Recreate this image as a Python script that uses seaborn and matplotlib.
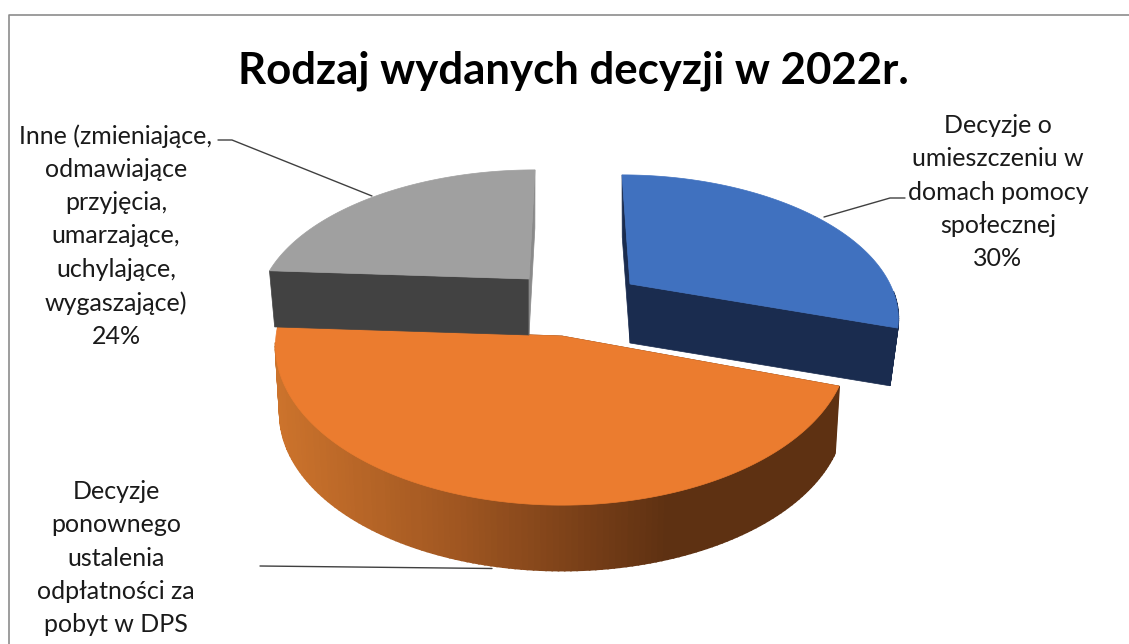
import numpy as np
import matplotlib
matplotlib.use('Agg')
import matplotlib.pyplot as plt
import seaborn as sns

# dane
etykiety = [
    'Decyzje o\numieszczeniu w\ndomach pomocy\nspołecznej\n30%',
    'Decyzje\nponownego\nustalenia\nodpłatności za\npobyt w DPS',
    'Inne (zmieniające,\nodmawiające\nprzyjęcia,\numarzające,\nuchylające,\nwygaszające)\n24%',
]
wartosci = [30, 46, 24]
tytul = 'Rodzaj wydanych decyzji w 2022r.'

kolor_gora = ['#4071bf', '#eb7c2f', '#a0a0a0']
kolor_bok = ['#1a2c4f', None, '#424242']
kolor_sciana = ['#1a2c4f', '#5e3112', '#8a8a8a']
gradient = sns.blend_palette(['#cc732c', '#9f5621', '#7a4018', '#5e3112'], 200)

# rzut perspektywiczny: cx, cy, R, A, B, pochylenie, glebokosc, skala dolu
rzut = [
    dict(cx=630, cy=284, R=260, A=133, B=0.219, L=-8, d=59, s=0.97),
    dict(cx=562, cy=336, R=286, A=159, B=0.06, L=0, d=68, s=0.985),
    dict(cx=529, cy=279, R=264, A=133, B=0.219, L=6, d=56, s=0.98),
]

sns.set_theme(style='white')
plt.rcParams['font.family'] = ['Lato', 'Open Sans', 'DejaVu Sans']

fig, ax = plt.subplots(figsize=(11.29, 6.44), dpi=100)
fig.subplots_adjust(0, 0, 1, 1)
ax.set_xlim(0, 1129)
ax.set_ylim(644, 0)
ax.axis('off')


def punkt(p, kat, dol=False):
    u, v = np.cos(kat), np.sin(kat)
    s = p['s'] if dol else 1
    m = 1 + p['B'] * v
    x = p['cx'] + s * (p['R'] * u / m + p['L'] * v)
    y = p['cy'] - s * p['A'] * v / m + (p['d'] if dol else 0)
    return x, y


# katy wycinkow, zgodnie z ruchem wskazowek od godziny 12
granice = np.radians(90 - 3.6 * np.cumsum([0] + wartosci))

for i in [2, 0, 1]:
    p = rzut[i]
    kat = np.linspace(granice[i], granice[i + 1], 140)
    tx, ty = punkt(p, kat)
    bx, by = punkt(p, kat, True)
    srodek_g = (p['cx'], p['cy'])
    srodek_d = (p['cx'], p['cy'] + p['d'])

    # sciany radialne
    for k, kol in ((kat[0], kolor_bok[i] or kolor_sciana[i]), (kat[-1], kolor_sciana[i])):
        a, b = punkt(p, k), punkt(p, k, True)
        ax.fill([a[0], b[0], srodek_d[0], srodek_g[0]], [a[1], b[1], srodek_d[1], srodek_g[1]],
                color=kol, lw=0.5, zorder=i + 1)

    # bok zewnetrzny, tylko przednia czesc luku
    for j in range(len(kat) - 1):
        if np.sin(kat[j]) > -0.05:
            continue
        if kolor_bok[i] is None:
            t = np.interp(tx[j], [275, 460, 580, 670], [0, 1 / 3, 2 / 3, 1])
            kol = gradient[int(t * 199)]
        else:
            kol = kolor_bok[i]
        ax.fill([tx[j], tx[j + 1], bx[j + 1], bx[j]], [ty[j], ty[j + 1], by[j + 1], by[j]],
                color=kol, lw=1.2, zorder=i + 1)

    # gorna powierzchnia
    ax.fill(np.r_[srodek_g[0], tx], np.r_[srodek_g[1], ty], color=kolor_gora[i], lw=0.5, zorder=i + 1.5)

# linie odniesienia
kol_linii = '#404040'
ax.plot([218, 232, 372], [140, 140, 196], color=kol_linii, lw=1, zorder=1)
ax.plot([905, 890, 824], [198, 198, 217], color=kol_linii, lw=1, zorder=1)
ax.plot([260, 492], [566, 568.5], color=kol_linii, lw=1, zorder=1)

# ramka
ax.plot([8.5, 8.5, 1129], [644, 14.5, 14.5], color='#8c8c8c', lw=1.2, zorder=0)

# teksty
ax.text(573, 71, tytul, ha='center', va='center', fontsize=31.5, fontweight='bold', color='black')
opis = [(998, 192), (116, 558), (116, 236)]
for tekst, (x, y) in zip(etykiety, opis):
    ax.text(x, y, tekst, ha='center', va='center', fontsize=18, color='#1a1a1a', linespacing=1.54)

fig.savefig('out.png', dpi=100)
